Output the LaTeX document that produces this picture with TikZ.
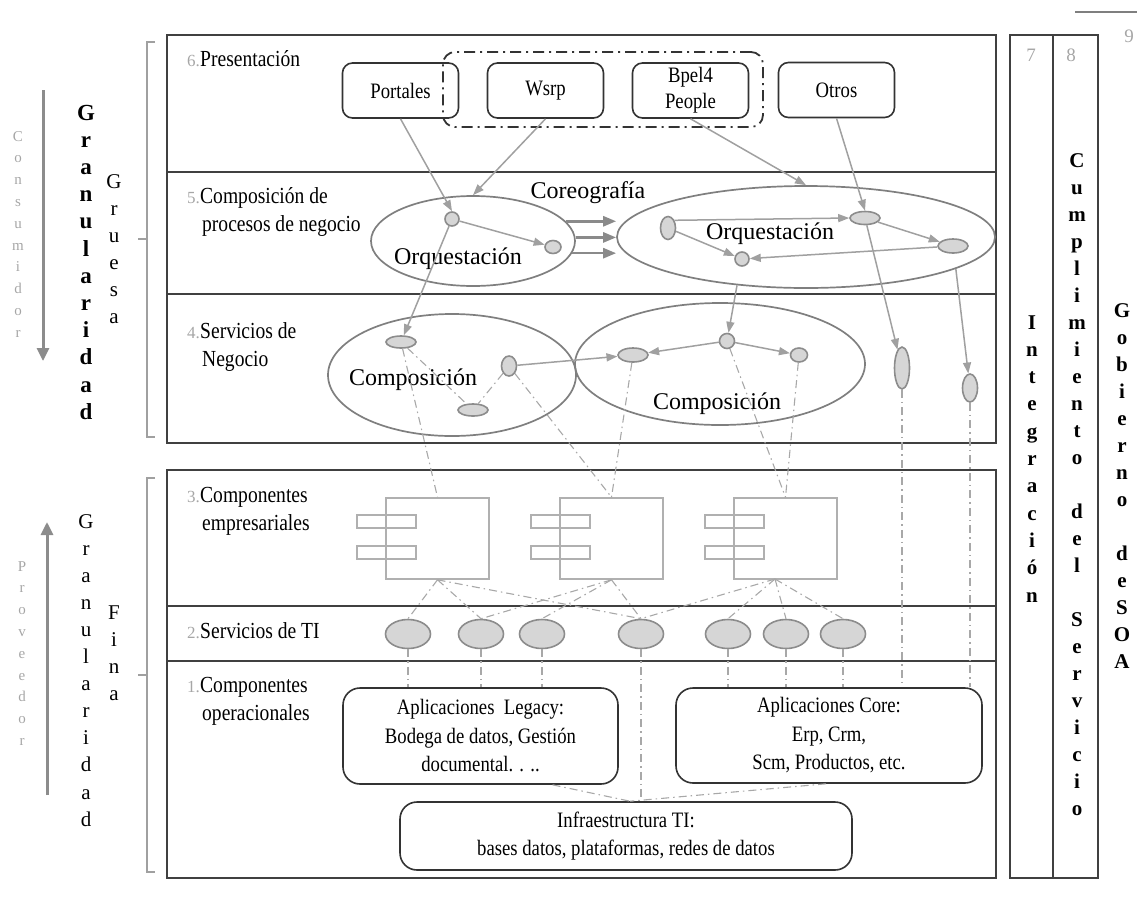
\documentclass[tikz,border=0pt]{standalone}
\usepackage{fontspec}
\setmainfont{Liberation Serif}
\newfontfamily\narrowserif[FakeStretch=0.85]{Liberation Serif}
\usetikzlibrary{arrows.meta,shapes.geometric,calc}

\definecolor{framecol}{HTML}{404040}
\definecolor{boxcol}{HTML}{333333}
\definecolor{ellcol}{HTML}{7F7F7F}
\definecolor{flowcol}{HTML}{A0A0A0}
\definecolor{choreocol}{HTML}{8A8A8A}
\definecolor{dotfill}{HTML}{D6D6D6}
\definecolor{dotline}{HTML}{8C8C8C}
\definecolor{compcol}{HTML}{B0B0B0}
\definecolor{linkcol}{HTML}{A8A8A8}
\definecolor{numcol}{HTML}{A6A6A6}
\definecolor{sidecol}{HTML}{8C8C8C}
\definecolor{bracecol}{HTML}{A0A0A0}

\begin{document}
\begin{tikzpicture}[x=1pt,y=-1pt,
  frameline/.style={draw=framecol,line width=2.2pt},
  rbox/.style={draw=boxcol,line width=1.6pt,rounded corners=10pt,align=center,inner sep=0pt,
    font=\narrowserif\fontsize{22}{26}\selectfont},
  appbox/.style={rbox,rounded corners=17pt,font=\narrowserif\fontsize{22}{28.5}\selectfont},
  grpbox/.style={draw=boxcol,line width=1.8pt,dash pattern=on 11pt off 5pt on 2pt off 5pt,
    rounded corners=12pt,inner sep=0pt},
  bigell/.style={ellipse,draw=ellcol,line width=1.7pt,inner sep=0pt},
  smallnode/.style={ellipse,draw=dotline,fill=dotfill,line width=1.6pt,inner sep=0pt},
  svc/.style={smallnode,minimum width=45pt,minimum height=29pt},
  comp/.style={draw=compcol,line width=1.6pt,inner sep=0pt,minimum width=103pt,minimum height=81pt},
  comppart/.style={draw=compcol,line width=1.6pt},
  flow/.style={draw=flowcol,line width=1.5pt,-{Triangle[length=11pt,width=8pt]}},
  choreo/.style={draw=choreocol,line width=2.6pt,-{Triangle[length=13pt,width=10pt]}},
  link/.style={draw=linkcol,line width=1.1pt,dash pattern=on 8pt off 4pt on 1.5pt off 4pt},
  sidearrow/.style={draw=sidecol,line width=3pt,-{Triangle[length=13pt,width=12pt]}},
  brace/.style={draw=bracecol,line width=1.4pt},
  lbl/.style={anchor=base west,inner sep=0pt,font=\narrowserif\fontsize{23}{28}\selectfont},
  num/.style={anchor=base east,inner sep=0pt,text=numcol,font=\fontsize{17}{17}\selectfont},
  flowtext/.style={inner sep=0pt,font=\fontsize{24}{24}\selectfont},
  colnum/.style={inner sep=0pt,text=numcol,font=\fontsize{19}{19}\selectfont},
  vbold/.style={anchor=base,inner sep=0pt,font=\bfseries\fontsize{23}{23}\selectfont},
  vreg/.style={anchor=base,inner sep=0pt,font=\fontsize{21}{21}\selectfont},
  vgray/.style={anchor=base,inner sep=0pt,text=numcol,font=\fontsize{15}{15}\selectfont},
  vcol/.style={anchor=base,inner sep=0pt,font=\bfseries\fontsize{21}{21}\selectfont},
]
\useasboundingbox (0,0) rectangle (1137,903);

% ---------- layer frames ----------
\draw[frameline] (167,35) rectangle (996,443);
\draw[frameline] (167,172) -- (996,172);
\draw[frameline] (167,294) -- (996,294);
\draw[frameline] (167,470) rectangle (996,878);
\draw[frameline] (167,606) -- (996,606);
\draw[frameline] (167,661) -- (996,661);
% vertical columns 7 and 8
\draw[frameline] (1010,35) rectangle (1098,878);
\draw[frameline] (1053,35) -- (1053,878);
\draw[draw=ellcol,line width=1.4pt] (1075,12) -- (1137,12);

\node[colnum] (num7) at (1031,55) {7};
\node[colnum] (num8) at (1071,55) {8};
\node[colnum] (num9) at (1129,36) {9};

% ---------- layer labels ----------
\node[lbl] (l6) at (200,66) {Presentación};
\node[num] (n6) at (l6.base west) {6.};
\node[lbl] (l5a) at (200,203) {Composición de};
\node[lbl] (l5b) at (202,231) {procesos de negocio};
\node[num] (n5) at (l5a.base west) {5.};
\node[lbl] (l4a) at (200,338) {Servicios de};
\node[lbl] (l4b) at (202,366) {Negocio};
\node[num] (n4) at (l4a.base west) {4.};
\node[lbl] (l3a) at (200,502) {Componentes};
\node[lbl] (l3b) at (202,530) {empresariales};
\node[num] (n3) at (l3a.base west) {3.};
\node[lbl] (l2) at (200,638) {Servicios de TI};
\node[num] (n2) at (l2.base west) {2.};
\node[lbl] (l1a) at (200,692) {Componentes};
\node[lbl] (l1b) at (202,720) {operacionales};
\node[num] (n1) at (l1a.base west) {1.};

% ---------- left side: granularity ----------
\foreach \ch [count=\k from 0] in {C,o,n,s,u,m,i,d,o,r}
  \node[vgray] (cons\k) at (18,141+21.8*\k) {\ch};
\draw[sidearrow] (43,90) -- (43,361);
\foreach \ch [count=\k from 0] in {G,r,a,n,u,l,a,r,i,d,a,d}
  \node[vbold] (granup\k) at (86,120+27.2*\k) {\ch};
\foreach \ch [count=\k from 0] in {G,r,u,e,s,a}
  \node[vreg] (grue\k) at (114,188+27*\k) {\ch};
\draw[brace] (155,42) -- (147,42) -- (147,437) -- (155,437);
\draw[brace] (147,239) -- (138,239);

\foreach \ch [count=\k from 0] in {P,r,o,v,e,e,d,o,r}
  \node[vgray] (prov\k) at (22,571+21.8*\k) {\ch};
\draw[sidearrow] (47,795) -- (47,522);
\foreach \ch [count=\k from 0] in {G,r,a,n,u,l,a,r,i,d,a,d}
  \node[vreg] (grandown\k) at (86,528+27.1*\k) {\ch};
\foreach \ch [count=\k from 0] in {F,i,n,a}
  \node[vreg] (fina\k) at (114,619+27.3*\k) {\ch};
\draw[brace] (155,478) -- (147,478) -- (147,872) -- (155,872);
\draw[brace] (147,675) -- (138,675);

% ---------- right side columns ----------
\foreach \ch [count=\k from 0] in {I,n,t,e,g,r,a,c,i,ó,n}
  \node[vcol] (integ\k) at (1032,329+27.3*\k) {\ch};
\foreach \ch/\k in {C/0,u/1,m/2,p/3,l/4,i/5,m/6,i/7,e/8,n/9,t/10,o/11,
                    d/13,e/14,l/15,S/17,e/18,r/19,v/20,i/21,c/22,i/23,o/24}
  \node[vcol] (cumpl\k) at (1077,167+27*\k) {\ch};
\foreach \ch/\k in {G/0,o/1,b/2,i/3,e/4,r/5,n/6,o/7,d/9,e/10,S/11,O/12,A/13}
  \node[vcol] (gob\k) at (1122,317+27*\k) {\ch};

% ---------- 6. presentation ----------
\node[grpbox,minimum width=320pt,minimum height=75pt] (grp) at (603,89.5) {};
\node[rbox,minimum width=116pt,minimum height=55pt] (portales) at (400.5,90.5) {Portales};
\node[rbox,minimum width=116pt,minimum height=55pt] (wsrp) at (545.5,90.5) {Wsrp};
\node[rbox,minimum width=116pt,minimum height=55pt] (bpel) at (690.5,90.5) {Bpel4\\People};
\node[rbox,minimum width=116pt,minimum height=55pt] (otros) at (836.5,90) {Otros};

% ---------- 5. business process composition ----------
\node[bigell,minimum width=204pt,minimum height=90pt] (orqL) at (473,241) {};
\node[flowtext] (orqLtext) at (458,259) {Orquestación};
\node[smallnode,minimum width=14pt,minimum height=14pt] (p1) at (452,219) {};
\node[smallnode,minimum width=16pt,minimum height=13pt] (p2) at (553,247) {};

\node[bigell,minimum width=378pt,minimum height=102pt] (orqR) at (806,237) {};
\node[flowtext] (orqRtext) at (770,234) {Orquestación};
\node[smallnode,minimum width=15pt,minimum height=23pt] (r1) at (668,228) {};
\node[smallnode,minimum width=14pt,minimum height=14pt] (r2) at (742,259) {};
\node[smallnode,minimum width=30pt,minimum height=13pt] (r3) at (865,218) {};
\node[smallnode,minimum width=30pt,minimum height=14pt] (r4) at (953,246) {};

\node[flowtext] (coreo) at (588,193) {Coreografía};
\draw[choreo] (orqL.12) -- (orqL.12 -| orqR.west);
\draw[choreo] (orqL.2) -- (orqL.2 -| orqR.west);
\draw[choreo] (orqL.-7) -- (orqL.-7 -| orqR.west);

% ---------- 4. business services ----------
\node[bigell,minimum width=248pt,minimum height=122pt] (compL) at (452,375) {};
\node[flowtext] (compLtext) at (413,380) {Composición};
\node[smallnode,minimum width=30pt,minimum height=12pt] (a1) at (401,342) {};
\node[smallnode,minimum width=15pt,minimum height=20pt] (a2) at (509,366) {};
\node[smallnode,minimum width=30pt,minimum height=12pt] (a3) at (473,410) {};

\node[bigell,minimum width=290pt,minimum height=122pt] (compR) at (720,364) {};
\node[flowtext] (compRtext) at (717,404) {Composición};
\node[smallnode,minimum width=30pt,minimum height=14pt] (b1) at (633,355) {};
\node[smallnode,minimum width=15pt,minimum height=15pt] (b2) at (727,341) {};
\node[smallnode,minimum width=17pt,minimum height=14pt] (b3) at (799,355) {};

\node[smallnode,minimum width=15pt,minimum height=42pt] (c1) at (902,368) {};
\node[smallnode,minimum width=15pt,minimum height=28pt] (c2) at (970,388) {};

% ---------- 3. enterprise components ----------
\foreach \x/\n in {386/1,560/2,734/3}{
  \node[comp] (comp\n) at (\x+51.5,538.5) {};
  \draw[comppart] (\x-29,515) rectangle (\x+30,528);
  \draw[comppart] (\x-29,546) rectangle (\x+30,559);
}
\coordinate (comp3foot) at (775,579);

% ---------- 2. IT services ----------
\foreach \x [count=\i] in {408,481,542,641,728,786,843}
  \node[svc] (e\i) at (\x,634) {};

% ---------- 1. operational components ----------
\node[appbox,minimum width=275pt,minimum height=96pt] (legacy) at (480.5,736)
  {Aplicaciones~ Legacy:\\Bodega de datos, Gestión\\documental. . ..};
\node[appbox,minimum width=306pt,minimum height=95pt] (core) at (829,735.5)
  {Aplicaciones Core:\\Erp, Crm,\\Scm, Productos, etc.};
\node[appbox,minimum width=452pt,minimum height=68pt] (infra) at (626,836)
  {Infraestructura TI:\\bases datos, plataformas, redes de datos};

% ---------- solid flows ----------
\draw[flow] (portales.south) -- (p1.north);
\draw[flow] (wsrp.south) -- (orqL.north);
\draw[flow] (bpel.south) -- (orqR.north);
\draw[flow] (otros.south) -- (r3.north);
\draw[flow] (p1) -- (p2);
\draw[flow] (r1.50) -- (r3.west);
\draw[flow] (r1) -- (r2);
\draw[flow] (r3) -- (r4);
\draw[flow] (r4) -- (r2);
\draw[flow] (p1) -- (a1);
\draw[flow] (orqR.-145) -- (b2);
\draw[flow] (r3) -- (c1);
\draw[flow] (orqR.-12) -- (c2);
\draw[flow] (a2) -- (b1);
\draw[flow] (b2) -- (b1);
\draw[flow] (b2) -- (b3);

% ---------- dash-dot dependencies ----------
\draw[link] (a1) -- (a3);
\draw[link] (a2) -- (a3);
\draw[link] (a1) -- (comp1.north);
\draw[link] (a2) -- (comp2.north);
\draw[link] (b1) -- (comp2.north);
\draw[link] (b2) -- (comp3.north);
\draw[link] (b3) -- (comp3.north);
\foreach \t in {1,2,4} \draw[link] (comp1.south) -- (e\t.north);
\foreach \t in {2,3,4} \draw[link] (comp2.south) -- (e\t.north);
\foreach \t in {4,5,6,7} \draw[link] (comp3foot) -- (e\t.north);
\foreach \i in {1,2,3} \draw[link] (e\i.south) -- (e\i.south |- legacy.north);
\draw[link] (e4.south) -- (e4.south |- infra.north);
\foreach \i in {5,6,7} \draw[link] (e\i.south) -- (e\i.south |- core.north);
\draw[link] (c1.south) -- (c1.south |- core.north);
\draw[link] (c2.south) -- (c2.south |- core.north);
\coordinate (legfoot) at ($(legacy.south)+(72,0)$);
\coordinate (corefoot) at ($(core.south)+(-3,0)$);
\coordinate (infrahead) at ($(infra.north)+(4,0)$);
\draw[link] (legfoot) -- (infrahead);
\draw[link] (corefoot) -- (infrahead);
\end{tikzpicture}
\end{document}
